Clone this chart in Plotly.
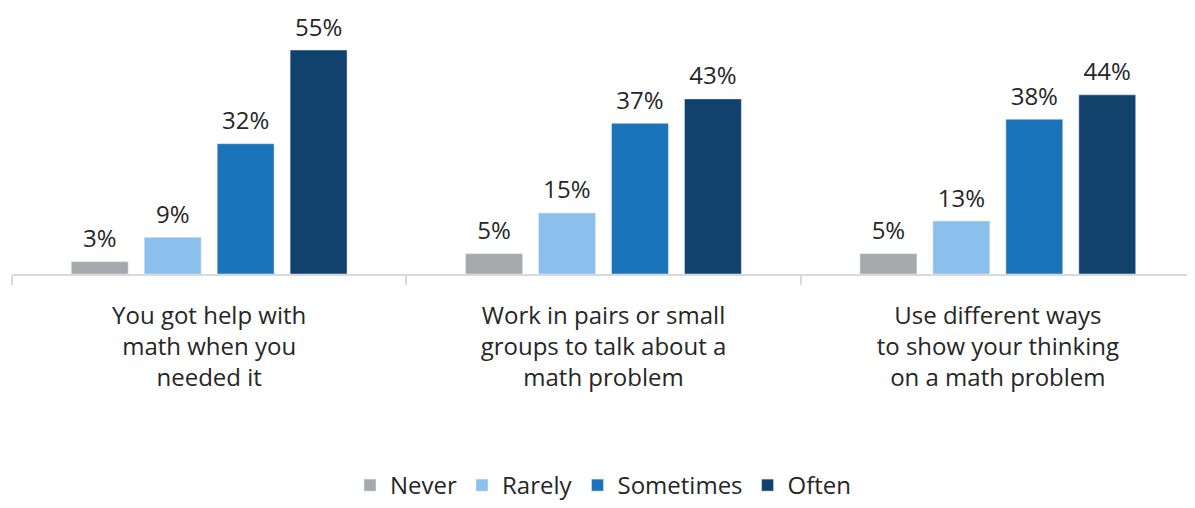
import plotly.graph_objects as go

categories = ["You got help with<br>math when you<br>needed it",
              "Work in pairs or small<br>groups to talk about a<br>math problem",
              "Use different ways<br>to show your thinking<br>on a math problem"]
series_names = ["Never", "Rarely", "Sometimes", "Often"]
never = [3, 5, 5]
rarely = [9, 15, 13]
sometimes = [32, 37, 38]
often = [55, 43, 44]
colors = ["#A5A9AC", "#8BBFEC", "#1B73BA", "#11426C"]

FONT = "Open Sans, Lato, sans-serif"

fig = go.Figure()
for name, vals, c in zip(series_names, [never, rarely, sometimes, often], colors):
    fig.add_trace(go.Bar(x=categories, y=vals, name=name, marker_color=c))
for name, vals in zip(series_names, [never, rarely, sometimes, often]):
    fig.add_trace(go.Scatter(
        x=categories, y=vals, mode="markers+text", showlegend=False,
        marker=dict(size=12, color="rgba(0,0,0,0)"),
        text=[f"{v}%" for v in vals], textposition="top center",
        textfont=dict(size=24, color="#262626", family=FONT), cliponaxis=False,
        hoverinfo="skip",
    ))

fig.update_layout(
    width=1187, height=500,
    margin=dict(l=4, r=0, t=40, b=227),
    barmode="group", bargap=0.26, bargroupgap=0.22,
    scattermode="group", scattergap=0.26,
    plot_bgcolor="white", paper_bgcolor="white",
    font=dict(family=FONT, size=24, color="#262626"),
    showlegend=True,
    legend=dict(orientation="h", x=0.5, xanchor="center", y=-0.94, yanchor="middle",
                font=dict(size=24), traceorder="normal", itemwidth=30),
)
fig.update_xaxes(showline=True, linecolor="#D9D9D9", linewidth=2, ticks="outside",
                 tickson="boundaries", ticklen=9, tickcolor="#D9D9D9", tickwidth=2,
                 tickfont=dict(size=24, color="#262626"), showgrid=False,
                 ticklabelstandoff=19)
fig.update_yaxes(range=[0, 55.5], visible=False, showgrid=False)

fig.write_html("out.html")
